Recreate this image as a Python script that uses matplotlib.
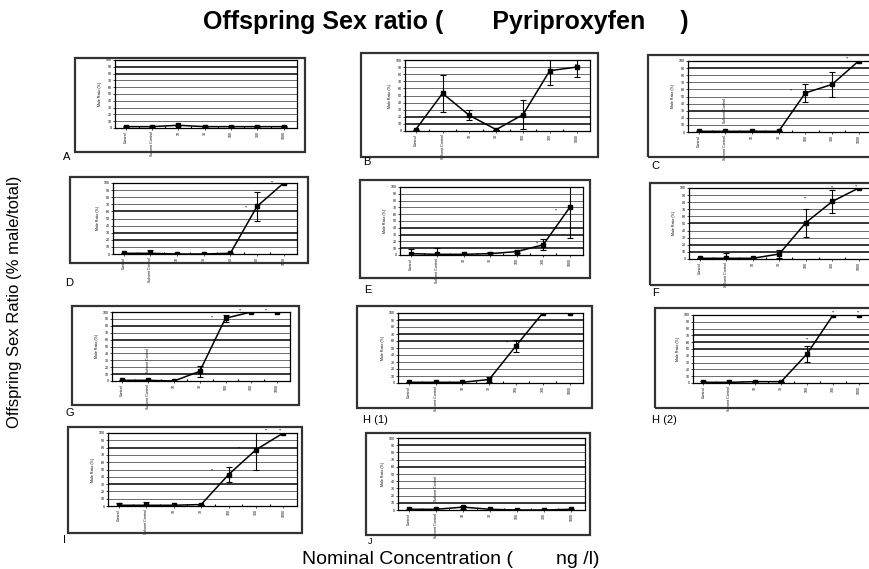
import matplotlib
matplotlib.use("Agg")
import matplotlib.pyplot as plt
from matplotlib.patches import Rectangle

W, H = 869, 569

categories = ["Control", "Solvent Control", "10", "30", "100", "300", "1000"]
y_ticks = [0, 10, 20, 30, 40, 50, 60, 70, 80, 90, 100]

panel_names = ["A", "B", "C", "D", "E", "F", "G", "H (1)", "H (2)", "I", "J"]

vals_A = [2, 2, 4, 2, 2, 2, 2]
err_A = [1, 1, 1, 1, 1, 1, 1]
vals_B = [2, 53, 22, 2, 23, 85, 90]
err_B = [0, 26, 7, 0, 20, 20, 14]
vals_C = [1, 1, 1, 1, 55, 67, 100]
err_C = [1, 1, 0, 0, 13, 18, 0]
vals_D = [1, 1, 0, 0, 1, 67, 100]
err_D = [1, 5, 0, 0, 0, 20, 0]
vals_E = [2, 1, 1, 2, 5, 15, 70]
err_E = [7, 10, 0, 3, 2, 8, 45]
vals_F = [1, 1, 1, 7, 51, 81, 100]
err_F = [0, 8, 0, 5, 20, 16, 0]
vals_G = [1, 1, 0, 14, 91, 100, 100]
err_G = [1, 0, 0, 8, 5, 0, 0]
vals_H1 = [1, 1, 1, 5, 53, 100, 100]
err_H1 = [1, 1, 0, 3, 8, 0, 0]
vals_H2 = [1, 1, 2, 2, 43, 100, 100]
err_H2 = [2, 0, 0, 0, 12, 0, 0]
vals_I = [1, 1, 1, 2, 43, 77, 100]
err_I = [3, 5, 0, 0, 10, 28, 0]
vals_J = [1, 1, 4, 1, 0, 0, 1]
err_J = [1, 1, 2, 1, 1, 1, 1]

# significance marks (category position, height) per panel
stars_B = [(5, 88), (6, 92)]
stars_C = [(3.5, 58), (4.6, 68), (5.6, 103)]
stars_D = [(4.6, 65), (5.6, 101)]
stars_E = [(4.8, 16), (5.5, 65)]
stars_F = [(4.0, 85), (5.0, 100), (5.9, 102)]
stars_G = [(3.5, 92), (4.6, 102), (5.6, 102)]
stars_H1 = [(3.7, 57)]
stars_H2 = [(4.0, 64), (5.0, 103), (6.0, 103)]
stars_I = [(3.4, 48), (4.4, 78), (5.4, 103), (5.9, 103)]

all_vals = [vals_A, vals_B, vals_C, vals_D, vals_E, vals_F, vals_G, vals_H1, vals_H2, vals_I, vals_J]
all_errs = [err_A, err_B, err_C, err_D, err_E, err_F, err_G, err_H1, err_H2, err_I, err_J]
all_stars = [[], stars_B, stars_C, stars_D, stars_E, stars_F, stars_G, stars_H1, stars_H2, stars_I, []]
inside_solvent = [False, False, True, False, False, False, True, False, False, False, True]

# layout in pixels: outer box (x0, y0, x1, y1), inner axes (x0, y0, x1, y1), label pos
outer = [
    (75, 58, 305, 152), (361, 53, 598, 157), (648, 55, 872, 157),
    (70, 177, 308, 263), (360, 180, 590, 278), (650, 183, 872, 285),
    (72, 306, 299, 405), (357, 306, 592, 408), (655, 308, 872, 408),
    (68, 427, 302, 533), (366, 433, 590, 535),
]
inner = [
    (115, 60, 297, 128), (405, 60, 590, 131), (688, 61, 872, 132),
    (113, 183, 297, 254), (400, 187, 583, 255), (689, 188, 872, 259),
    (112, 312, 290, 381), (398, 313, 583, 383), (693, 315, 872, 383),
    (108, 433, 297, 506), (398, 438, 585, 510),
]
label_pos = [
    (63, 157), (363, 162), (651, 166),
    (65, 283), (364, 290), (652, 293),
    (65, 413), (363, 420), (652, 420),
    (63, 540), (368, 542),
]

thick_sets = [
    [90, 80], [20, 10], [90, 30], [60, 30, 20], [40, 30, 10],
    [50, 20, 10], [80, 60, 10], [90, 70, 60], [70, 60, 50], [80, 30], [90, 60, 10],
]

plt.rcParams['font.family'] = ['Liberation Sans', 'DejaVu Sans']
fig = plt.figure(figsize=(W / 100, H / 100), dpi=100)
fig.patch.set_facecolor("white")

def fx(x):
    return x / W

def fy(y):
    return 1 - y / H

for i, name in enumerate(panel_names):
    ox0, oy0, ox1, oy1 = outer[i]
    fig.patches.append(Rectangle((fx(ox0), fy(oy1)), fx(ox1 - ox0), (oy1 - oy0) / H,
                                 transform=fig.transFigure, fill=False,
                                 edgecolor="#333333", linewidth=1.6))
    ix0, iy0, ix1, iy1 = inner[i]
    ax = fig.add_axes([fx(ix0), fy(iy1), fx(ix1 - ix0), (iy1 - iy0) / H])
    xs = list(range(len(categories)))
    vals = all_vals[i]
    errs = all_errs[i]
    for t in y_ticks[1:]:
        lw = 1.1 if t in thick_sets[i] else 0.6
        col = "black" if t in thick_sets[i] else "#555555"
        ax.axhline(t, color=col, linewidth=lw, zorder=0)
    ax.errorbar(xs, vals, yerr=errs, color="black", linewidth=1.1, marker="s",
                markersize=3.5, elinewidth=0.8, capsize=2.5, capthick=0.8, zorder=3)
    for (sx, sy) in all_stars[i]:
        ax.text(sx, sy, "**", fontsize=3, ha="center", va="center", color="black")
    if inside_solvent[i]:
        ax.text(1, 12, "Solvent Control", fontsize=2.6, rotation=90,
                ha="center", va="bottom", color="black")
    ax.set_xlim(-0.4, 6.5)
    ax.set_ylim(0, 100)
    ax.set_yticks(y_ticks)
    ax.set_yticklabels([str(t) for t in y_ticks], fontsize=2.6)
    ax.set_xticks(xs)
    ax.set_xticklabels(categories, rotation=90, fontsize=2.6)
    ax.set_xticks([x + 0.5 for x in xs[:-1]], minor=True)
    ax.tick_params(axis="both", length=1.2, width=0.5, pad=1)
    ax.tick_params(axis="x", which="minor", length=1.2, width=0.8, direction="in")
    ax.set_ylabel("Male Ratio (%)", fontsize=2.6, labelpad=3)
    for sp in ax.spines.values():
        sp.set_linewidth(0.9)
        sp.set_color("black")
    lx, ly = label_pos[i]
    fs = 6.5 if name == "J" else 8
    fig.text(fx(lx), fy(ly), name, fontsize=fs, ha="left", va="center")

fig.text(fx(446), fy(22), "Offspring Sex ratio (       Pyriproxyfen     )",
         fontsize=18, fontweight="bold", ha="center", va="center")
fig.text(fx(15), fy(302), "Offspring Sex Ratio (% male/total)", fontsize=12,
         rotation=90, ha="center", va="center")
fig.text(fx(302), fy(559), "Nominal Concentration (        ng /l)", fontsize=14,
         ha="left", va="center")

fig.savefig("out.png", dpi=100)
